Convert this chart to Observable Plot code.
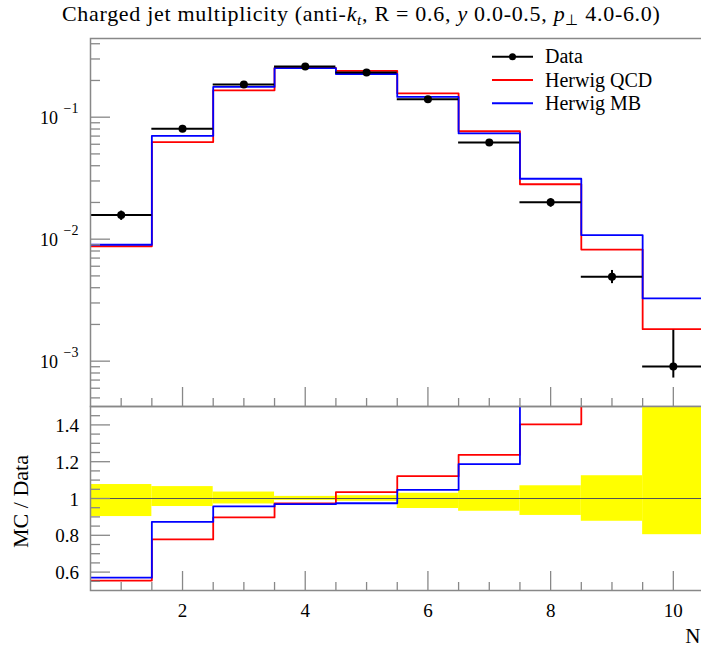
<!DOCTYPE html>
<html>
<head>
<meta charset="utf-8">
<script src="https://cdn.jsdelivr.net/npm/d3@7"></script>
<script src="https://cdn.jsdelivr.net/npm/@observablehq/plot@0.6"></script>
<style>
  html, body { margin: 0; padding: 0; background: white; overflow: hidden; }
  #wrap { position: relative; width: 701px; height: 646px; overflow: hidden; font-family: "Liberation Serif", serif; }
  #title { position: absolute; left: 62px; top: 2px; font-size: 22px; letter-spacing: 0.7px; line-height: 24px; white-space: nowrap; color: #000; }
  #title sub { font-size: 0.7em; vertical-align: -0.28em; line-height: 0; }
  .panel { position: absolute; left: 0; }
  #legend { position: absolute; left: 0; top: 0; }
</style>
</head>
<body>
<div id="wrap">
  <div id="title">Charged jet multiplicity (anti-<i>k</i><sub><i>t</i></sub>, R = 0.6, <i>y</i> 0.0-0.5, <i>p</i><sub>⊥</sub> 4.0-6.0)</div>
</div>
<script>
// ---- data ----
const binEdges = [0.5, 1.5, 2.5, 3.5, 4.5, 5.5, 6.5, 7.5, 8.5, 9.5, 10.5];
const binCenters = [1, 2, 3, 4, 5, 6, 7, 8, 9, 10];
const dataVal = [0.0158, 0.0804, 0.185, 0.260, 0.232, 0.140, 0.0620, 0.0201, 0.00493, 0.000905];
const dataLo  = [0.01425, 0.0769, 0.1795, 0.2574, 0.2285, 0.1324, 0.0577, 0.01825, 0.00432, 0.000727];
const dataHi  = [0.0170, 0.0856, 0.1915, 0.2630, 0.2355, 0.1440, 0.0647, 0.02149, 0.00554, 0.00179];
const qcdVal  = [0.00875, 0.0625, 0.166, 0.253, 0.240, 0.157, 0.0767, 0.0282, 0.00822, 0.00183];
const mbVal   = [0.00900, 0.0702, 0.177, 0.252, 0.226, 0.1465, 0.0736, 0.0313, 0.0108, 0.00327];
const seriesNames = ["Data", "Herwig QCD", "Herwig MB"];
const seriesColors = ["#000000", "#ff0000", "#0000ff"];

// ---- axes / ticks ----
const xDomain = [0.5, 10.5];
const yMainDomain = [4.25e-4, 0.4416];
const yRatioDomain = [0.5, 1.5];
const yMainMajor = [1e-3, 1e-2, 1e-1];
const yMainMajorExp = ["\u22123", "\u22122", "\u22121"];
const yRatioMajor = [0.6, 0.8, 1.0, 1.2, 1.4];
const yRatioLabels = ["0.6", "0.8", "1", "1.2", "1.4"];
const xMajor = [2, 4, 6, 8, 10];
const xMajorLabels = ["2", "4", "6", "8", "10"];
const xMinor = [1, 1.5, 2.5, 3, 3.5, 4.5, 5, 5.5, 6.5, 7, 7.5, 8.5, 9, 9.5, 10.5];
const xLabel = "N";
const yRatioTitle = "MC / Data";

const yMainMinor = [];
for (const e of [-4, -3, -2, -1]) for (let k = 2; k <= 9; k++) {
  const v = k * Math.pow(10, e);
  if (v > yMainDomain[0] && v < yMainDomain[1]) yMainMinor.push(v);
}
const yRatioMinor = d3.range(0.55, 1.5, 0.05).map(v => +v.toFixed(2)).filter(v => !yRatioMajor.some(m => Math.abs(m - v) < 1e-6));

// ---- derived tables ----
const rows = binCenters.map((c, i) => ({
  x: c, lo: binEdges[i], hi: binEdges[i + 1],
  data: dataVal[i], dLo: dataLo[i], dHi: dataHi[i],
  qcd: qcdVal[i], mb: mbVal[i]
}));
const steps = (vals) => vals.flatMap((v, i) => [{x: binEdges[i], y: v}, {x: binEdges[i + 1], y: v}]);

// ---- layout ----
const W = 704, ML = 90, MR = 0.5;
const PW = W - ML - MR;
const mainH = 410, mainMT = 38, mainMB = 4;
const mainPH = mainH - mainMT - mainMB;
const ratH = 246, ratMT = 6, ratMB = 56;
const ratPH = ratH - ratMT - ratMB;
const gray = "#888";
const style = {fontFamily: "Liberation Serif, serif", fontSize: "19px", background: "transparent", overflow: "visible", maxWidth: "none", color: "#000"};

const mainPlot = Plot.plot({
  width: W, height: mainH, marginLeft: ML, marginRight: MR, marginTop: mainMT, marginBottom: mainMB,
  x: {domain: xDomain, axis: null},
  y: {type: "log", domain: yMainDomain, axis: null},
  style,
  marks: [
    Plot.line(steps(qcdVal), {x: "x", y: "y", stroke: seriesColors[1], strokeWidth: 1.8, clip: true}),
    Plot.line(steps(mbVal), {x: "x", y: "y", stroke: seriesColors[2], strokeWidth: 1.8, clip: true}),
    Plot.ruleY(rows, {y: "data", x1: "lo", x2: "hi", stroke: "#000", strokeWidth: 2}),
    Plot.ruleX(rows, {x: "x", y1: "dLo", y2: "dHi", stroke: "#000", strokeWidth: 2}),
    Plot.dot(rows, {x: "x", y: "data", r: 4, fill: "#000", stroke: null}),
    Plot.frame({stroke: gray, strokeWidth: 1.5}),
    Plot.tickY(yMainMajor, {y: d => d, insetRight: PW - 20, stroke: gray, strokeWidth: 1.3}),
    Plot.tickY(yMainMinor, {y: d => d, insetRight: PW - 10, stroke: gray, strokeWidth: 1.3}),
    Plot.tickX(xMajor, {x: d => d, insetTop: mainPH - 19, stroke: gray, strokeWidth: 1.3}),
    Plot.tickX(xMinor, {x: d => d, insetTop: mainPH - 8, stroke: gray, strokeWidth: 1.3}),
    Plot.text(yMainMajor, {y: d => d, frameAnchor: "left", text: () => "10", textAnchor: "end", lineAnchor: "middle", dx: -32.5, dy: 1, fontSize: 18, fill: "#000"}),
    Plot.text(yMainMajor, {y: d => d, frameAnchor: "left", text: (d, i) => yMainMajorExp[i], textAnchor: "end", lineAnchor: "middle", dx: -12, dy: -9, fontSize: 14, fill: "#000"})
  ]
});

const ratioPlot = Plot.plot({
  width: W, height: ratH, marginLeft: ML, marginRight: MR, marginTop: ratMT, marginBottom: ratMB,
  x: {domain: xDomain, axis: null},
  y: {domain: yRatioDomain, axis: null},
  style,
  marks: [
    Plot.rect(rows, {x1: "lo", x2: "hi", y1: d => d.dLo / d.data, y2: d => d.dHi / d.data, fill: "#ffff00", clip: true}),
    Plot.ruleY([1], {stroke: "#555", strokeWidth: 1}),
    Plot.line(steps(qcdVal.map((v, i) => v / dataVal[i])), {x: "x", y: "y", stroke: seriesColors[1], strokeWidth: 1.8, clip: true}),
    Plot.line(steps(mbVal.map((v, i) => v / dataVal[i])), {x: "x", y: "y", stroke: seriesColors[2], strokeWidth: 1.8, clip: true}),
    Plot.frame({stroke: gray, strokeWidth: 1.5}),
    Plot.tickY(yRatioMajor, {y: d => d, insetRight: PW - 20, stroke: gray, strokeWidth: 1.3}),
    Plot.tickY(yRatioMinor, {y: d => d, insetRight: PW - 10, stroke: gray, strokeWidth: 1.3}),
    Plot.tickX(xMajor, {x: d => d, insetTop: ratPH - 19, stroke: gray, strokeWidth: 1.3}),
    Plot.tickX(xMinor, {x: d => d, insetTop: ratPH - 8, stroke: gray, strokeWidth: 1.3}),
    Plot.text(yRatioMajor, {y: d => d, frameAnchor: "left", text: (d, i) => yRatioLabels[i], textAnchor: "end", lineAnchor: "middle", dx: -11.5, dy: 1, fontSize: 19, fill: "#000"}),
    Plot.text(xMajor, {x: d => d, frameAnchor: "bottom", text: (d, i) => xMajorLabels[i], textAnchor: "middle", lineAnchor: "middle", dy: 20, fontSize: 19, fill: "#000"}),
    Plot.text([xLabel], {frameAnchor: "bottom-right", text: d => d, textAnchor: "end", lineAnchor: "bottom", dx: -3.5, dy: 52, fontSize: 21, fill: "#000"}),
    Plot.text([yRatioTitle], {frameAnchor: "left", text: d => d, rotate: -90, textAnchor: "middle", lineAnchor: "middle", dx: -69.5, dy: 3, fontSize: 22, fill: "#000"})
  ]
});

const wrap = document.getElementById("wrap");
mainPlot.classList.add("panel"); mainPlot.style.top = "0px";
ratioPlot.classList.add("panel"); ratioPlot.style.top = "400px";
wrap.appendChild(mainPlot);
wrap.appendChild(ratioPlot);

// ---- legend ----
const legendRowsY = [56.7, 80, 103.3];
const leg = d3.select(wrap).append("svg").attr("id", "legend").attr("width", 701).attr("height", 130)
  .style("position", "absolute").style("left", "0px").style("top", "0px");
seriesNames.forEach((name, i) => {
  const y = legendRowsY[i];
  leg.append("line").attr("x1", 492).attr("x2", 533).attr("y1", y).attr("y2", y)
    .attr("stroke", seriesColors[i]).attr("stroke-width", 2);
  if (i === 0) leg.append("circle").attr("cx", 512.5).attr("cy", y).attr("r", 3.5).attr("fill", "#000");
  leg.append("text").attr("x", 545).attr("y", y + 6.5).attr("font-family", "Liberation Serif, serif")
    .attr("font-size", 20).attr("fill", "#000").text(name);
});
</script>
</body>
</html>
